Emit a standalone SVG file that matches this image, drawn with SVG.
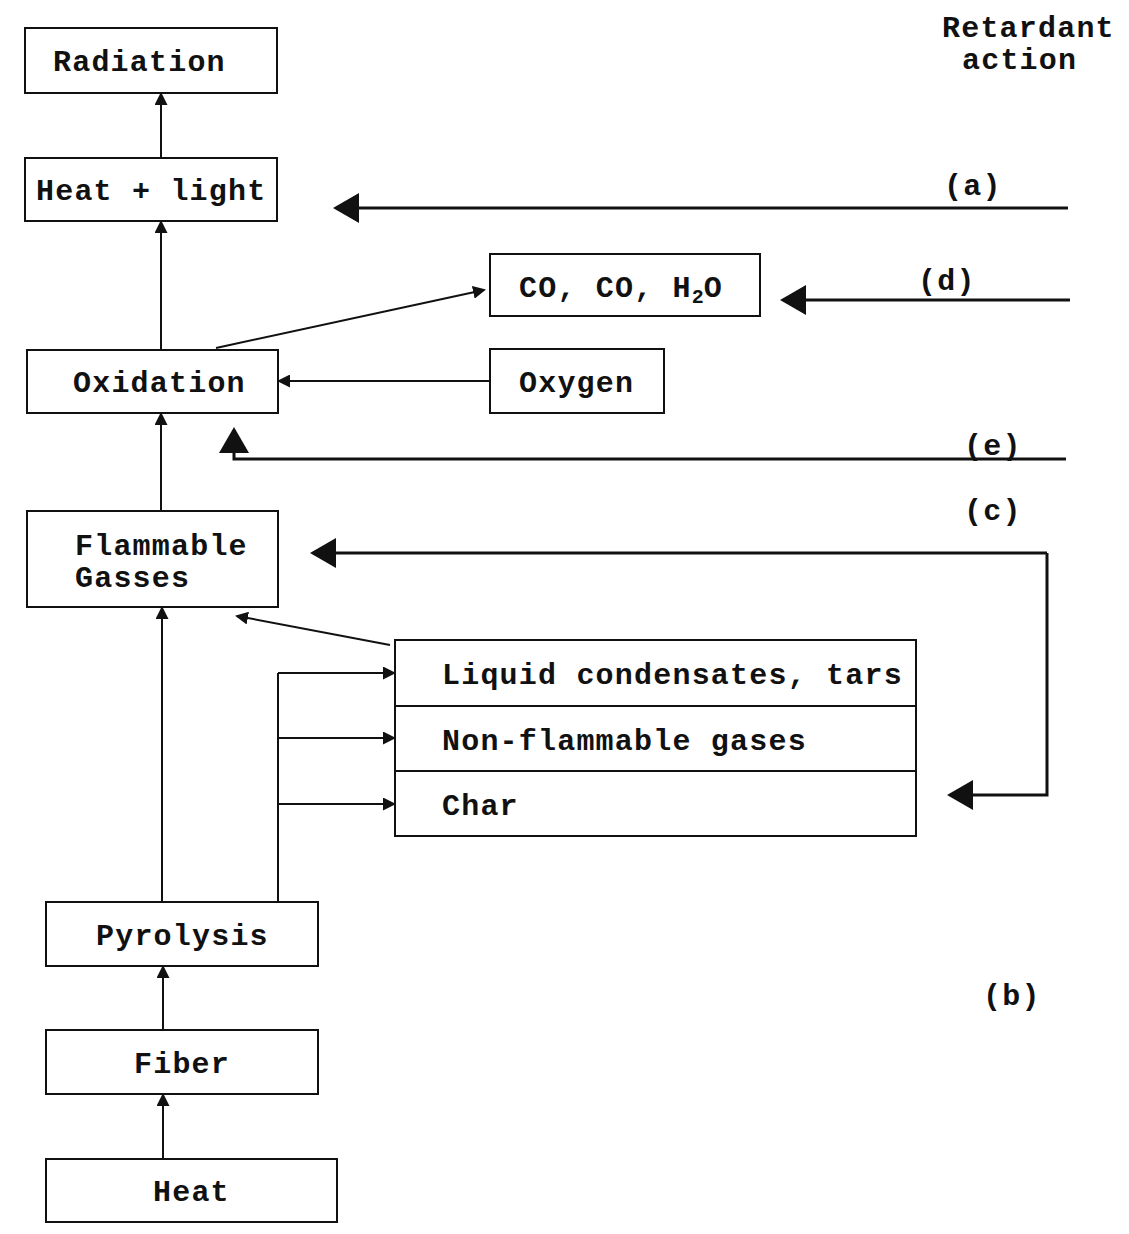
<svg xmlns="http://www.w3.org/2000/svg" width="1129" height="1234" viewBox="0 0 1129 1234">
<style>
.box{fill:#fff;stroke:#111;stroke-width:2}
.t{font-family:"Liberation Mono","Courier New",monospace;font-weight:bold;font-size:30px;letter-spacing:1.2px;fill:#111}
.ln{fill:none;stroke:#111;stroke-width:2}
.rl{fill:none;stroke:#111;stroke-width:3}
.sa{marker-end:url(#sm)}
.ba{marker-end:url(#bg)}
</style>
<defs>
<marker id="sm" markerUnits="userSpaceOnUse" viewBox="0 0 13 13" markerWidth="13" markerHeight="13" refX="11" refY="6.5" orient="auto">
<path d="M0,0 L13,6.5 L0,13 z" fill="#111"/>
</marker>
<marker id="bg" markerUnits="userSpaceOnUse" viewBox="0 0 26 30" markerWidth="26" markerHeight="30" refX="23" refY="15" orient="auto">
<path d="M0,0 L26,15 L0,30 z" fill="#111"/>
</marker>
</defs>
<rect width="1129" height="1234" fill="#fff"/>

<g id="connectors">
<path class="ln sa" d="M161,158 V94"/>
<path class="ln sa" d="M161,350 V222"/>
<path class="ln sa" d="M216,348 L484,290"/>
<path class="ln sa" d="M490,381 H279"/>
<path class="ln sa" d="M161,511 V414"/>
<path class="ln sa" d="M162,902 V608"/>
<path class="ln sa" d="M390,645 L237,616"/>
<path class="ln" d="M278,902 V673"/>
<path class="ln sa" d="M278,673 H394"/>
<path class="ln sa" d="M278,738 H394"/>
<path class="ln sa" d="M278,804 H394"/>
<path class="ln sa" d="M163,1030 V967"/>
<path class="ln sa" d="M163,1159 V1095"/>
<path class="rl ba" d="M1068,208 H336"/>
<path class="rl ba" d="M1070,300 H783"/>
<path class="rl ba" d="M1066,459 H234 V430"/>
<path class="rl ba" d="M1047,553 H313"/>
<path class="rl ba" d="M1047,553 V795 H950"/>
</g>

<g id="radiation"><rect class="box" x="25" y="28" width="252" height="65"/><text class="t" x="53" y="71">Radiation</text></g>
<g id="heat-light"><rect class="box" x="25" y="158" width="252" height="63"/><text class="t" x="36" y="200">Heat + light</text></g>
<g id="oxidation"><rect class="box" x="27" y="350" width="251" height="63"/><text class="t" x="73" y="392">Oxidation</text></g>
<g id="products"><rect class="box" x="490" y="254" width="270" height="62"/><text class="t" x="519" y="297">CO, CO, H<tspan font-size="20" dy="6" letter-spacing="0">2</tspan><tspan dy="-6">O</tspan></text></g>
<g id="oxygen"><rect class="box" x="490" y="349" width="174" height="64"/><text class="t" x="519" y="392">Oxygen</text></g>
<g id="flammable-gasses"><rect class="box" x="27" y="511" width="251" height="96"/><text class="t" x="75" y="555">Flammable</text><text class="t" x="75" y="587">Gasses</text></g>
<g id="pyrolysis-products">
<rect class="box" x="395" y="640" width="521" height="196"/>
<path class="ln" d="M395,706 H916 M395,771 H916"/>
<text class="t" x="442" y="684">Liquid condensates, tars</text>
<text class="t" x="442" y="750">Non-flammable gases</text>
<text class="t" x="442" y="815">Char</text>
</g>
<g id="pyrolysis"><rect class="box" x="46" y="902" width="272" height="64"/><text class="t" x="96" y="945">Pyrolysis</text></g>
<g id="fiber"><rect class="box" x="46" y="1030" width="272" height="64"/><text class="t" x="134" y="1073">Fiber</text></g>
<g id="heat"><rect class="box" x="46" y="1159" width="291" height="63"/><text class="t" x="153" y="1201">Heat</text></g>

<g id="labels">
<text class="t" x="942" y="37">Retardant</text>
<text class="t" x="962" y="69">action</text>
<text class="t" x="944" y="195">(a)</text>
<text class="t" x="918" y="290">(d)</text>
<text class="t" x="964" y="455">(e)</text>
<text class="t" x="964" y="520">(c)</text>
<text class="t" x="983" y="1005">(b)</text>
</g>
</svg>
